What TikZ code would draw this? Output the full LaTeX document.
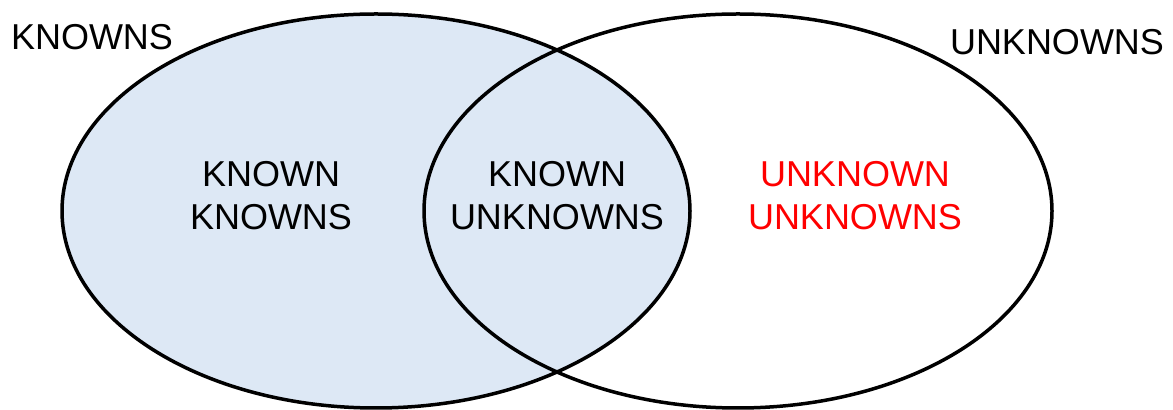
\documentclass[tikz,border=0pt]{standalone}
\usepackage{fontspec}
\setmainfont{Liberation Sans}
\usepackage{xcolor}
\usepackage{tikz}
\usetikzlibrary{
  shapes.geometric,
  positioning
}
\definecolor{KnownBlue}{RGB}{221,232,245}
\definecolor{InkBlack}{RGB}{0,0,0}
\definecolor{AlertRed}{RGB}{255,0,0}
\tikzset{
  %%── 两个集合（椭圆） ─────────────────────────────────────
  setbox/.style = {
    ellipse, draw = InkBlack, line width = 1.75pt,
    minimum width = 314pt, minimum height = 197pt,
    inner sep = 0pt
  },
  knownset/.style = {setbox, fill = KnownBlue},
  %%── 文字标签 ──────────────────────────────────────────────
  setlabel/.style = {
    inner sep = 0pt, align = center,
    font = \fontsize{18}{21.5}\selectfont
  },
  alertlabel/.style = {setlabel, text = AlertRed},
}

\begin{document}
\begin{tikzpicture}[x = 0.5pt, y = -0.5pt]

  \useasboundingbox (0,0) rectangle (1173,410);

  %% 集合
  \node[knownset] (knowns) at (376,211) {};
  \node[setbox]   (unknowns) at (738,211) {};

  %% 集合名称
  \node[setlabel] (knownstag)   at (92,37)   {KNOWNS};
  \node[setlabel] (unknownstag) at (1057,42) {UNKNOWNS};

  %% 三个区域
  \node[setlabel]   (kk) at (271,196) {KNOWN\\KNOWNS};
  \node[setlabel]   (ku) at (557,196) {KNOWN\\UNKNOWNS};
  \node[alertlabel] (uu) at (855,196) {UNKNOWN\\UNKNOWNS};

\end{tikzpicture}
\end{document}
